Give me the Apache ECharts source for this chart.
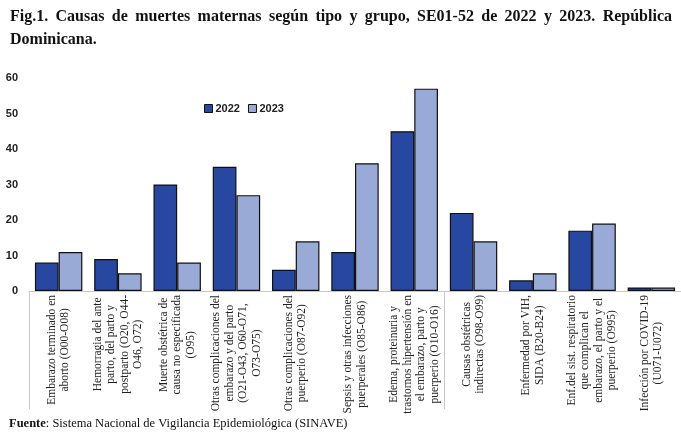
<!DOCTYPE html>
<html><head><meta charset="utf-8">
<script src="https://cdn.jsdelivr.net/npm/echarts@6/dist/echarts.min.js"></script>
<style>html,body{margin:0;padding:0;background:#fff}#c{width:681px;height:435px}</style>
</head><body><div id="c"></div>
<script>
var categories = [
  "Embarazo terminado en\naborto (O00-O08)",
  "Hemorragia del ante\nparto, del parto y\npostparto (O20, O44-\nO46, O72)",
  "Muerte obstétrica de\ncausa no especificada\n(O95)",
  "Otras complicaciones del\nembarazo y del parto\n(O21-O43, O60-O71,\nO73-O75)",
  "Otras complicaciones del\npuerperio (O87-O92)",
  "Sepsis y otras infecciones\npuerperales (O85-O86)",
  "Edema, proteinuria y\ntrastornos hipertensión en\nel embarazo, parto y\npuerperio (O10-O16)",
  "Causas obstétricas\nindirectas (O98-O99)",
  "Enfermedad por VIH,\nSIDA (B20-B24)",
  "Enf.del sist. respiratorio\nque complican el\nembarazo, el parto y el\npuerperio (O995)",
  "Infección por COVID-19\n(U071-U072)"
];
var values2022 = [8, 9, 30, 35, 6, 11, 45, 22, 3, 17, 1];
var values2023 = [11, 5, 8, 27, 14, 36, 57, 14, 5, 19, 1];
var yTicks = {min: 0, max: 60, interval: 10};
var seriesNames = ["2022", "2023"];
var titleLine1 = "Fig.1. Causas de muertes maternas según tipo y grupo, SE01-52 de 2022 y 2023. República";
var titleLine2 = "Dominicana.";
var sourceText = "Sistema Nacional de Vigilancia Epidemiológica (SINAVE)";

// justified first title line (word positions computed from measured text widths)
var titleFont = 'bold 16px "Liberation Serif"';
var ctx = document.createElement('canvas').getContext('2d');
ctx.font = titleFont;
var words = titleLine1.split(' ');
var widths = words.map(function (w) { return ctx.measureText(w).width; });
var totalW = widths.reduce(function (a, b) { return a + b; }, 0);
var x0 = 10, x1 = 672;
var gap = (x1 - x0 - totalW) / (words.length - 1);
var titleGraphics = [];
var cx = x0;
words.forEach(function (w, i) {
  titleGraphics.push({type: 'text', x: cx, y: 17, style: {text: w, font: titleFont, fill: '#111', textVerticalAlign: 'middle'}});
  cx += widths[i] + gap;
});
titleGraphics.push({type: 'text', x: x0, y: 40, style: {text: titleLine2, font: titleFont, fill: '#111', textVerticalAlign: 'middle'}});

var chart = echarts.init(document.getElementById('c'));
chart.setOption({
  animation: false,
  legend: {
    data: seriesNames, left: 199, top: 98, itemWidth: 8, itemHeight: 8, itemGap: 8,
    icon: 'rect',
    itemStyle: {borderColor: '#111', borderWidth: 1},
    textStyle: {fontFamily: 'Liberation Sans', fontWeight: 'bold', fontSize: 11, color: '#222', padding: [0,0,0,-2]}
  },
  grid: {left: 29, right: -1, top: 78, bottom: 144},
  xAxis: {
    type: 'category', data: categories,
    axisLine: {lineStyle: {color: '#c8c8c8', width: 1}},
    axisTick: {show: true, alignWithLabel: false, length: 118,
      interval: function (i) { return i === 0 || i === 7; },
      lineStyle: {color: '#c8c8c8'}},
    axisLabel: {
      rotate: 90, margin: 4, interval: 0,
      fontFamily: 'Liberation Serif', fontSize: 11.5, lineHeight: 13.5, color: '#222',
      formatter: function (v) { return v.split('\n').map(function (l) { return '{c|' + l + '}'; }).join('\n'); },
      rich: {c: {align: 'center', fontFamily: 'Liberation Serif', fontSize: 11.5, lineHeight: 13.5, color: '#222'}}
    }
  },
  yAxis: {
    type: 'value', min: yTicks.min, max: yTicks.max, interval: yTicks.interval,
    axisLine: {show: false}, axisTick: {show: false}, splitLine: {show: false},
    axisLabel: {margin: 11, fontFamily: 'Liberation Sans', fontWeight: 'bold', fontSize: 11, color: '#222'}
  },
  series: [
    {name: seriesNames[0], type: 'bar', data: values2022, barGap: '0%', barCategoryGap: '20%',
     itemStyle: {color: '#2747a0', borderColor: '#111', borderWidth: 1.2}},
    {name: seriesNames[1], type: 'bar', data: values2023, barGap: '0%', barCategoryGap: '20%',
     itemStyle: {color: '#99aad6', borderColor: '#111', borderWidth: 1.2}}
  ],
  graphic: titleGraphics.concat([{
    type: 'text', left: 9, top: 417,
    style: {
      text: '{b|Fuente}: ' + sourceText,
      font: '12.5px "Liberation Serif"', fill: '#111',
      rich: {b: {fontWeight: 'bold', fontFamily: 'Liberation Serif', fontSize: 12.5, fill: '#111'}}
    }
  }])
});
</script></body></html>
